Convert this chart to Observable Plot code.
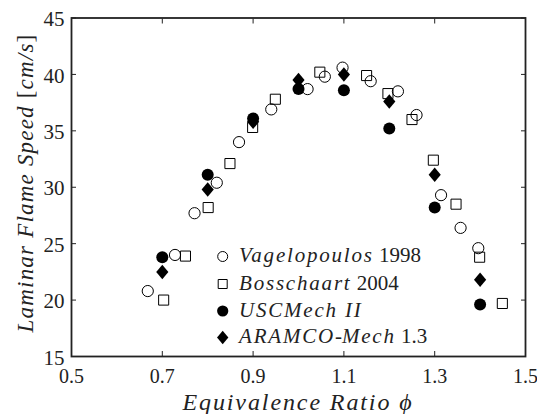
<!DOCTYPE html>
<html><head><meta charset="utf-8">
<script src="https://cdn.jsdelivr.net/npm/d3@7"></script>
<script src="https://cdn.jsdelivr.net/npm/@observablehq/plot@0.6"></script>
<style>body{margin:0;background:#fff}#chart{width:537px;height:414px}</style>
</head><body><div id="chart"></div>
<script>
// ---- data ----
const vagX = [0.668,0.728,0.771,0.820,0.869,0.940,1.020,1.058,1.097,1.159,1.219,1.260,1.314,1.357,1.396];
const vagY = [20.8,24.0,27.7,30.4,34.0,36.9,38.7,39.8,40.6,39.4,38.5,36.4,29.3,26.4,24.6];
const bosX = [0.703,0.751,0.801,0.849,0.899,0.949,1.047,1.150,1.197,1.250,1.297,1.347,1.399,1.449];
const bosY = [20.0,23.9,28.2,32.1,35.3,37.8,40.2,39.9,38.3,36.0,32.4,28.5,23.8,19.7];
const simX = [0.7,0.8,0.9,1.0,1.1,1.2,1.3,1.4];
const uscY = [23.8,31.1,36.1,38.7,38.6,35.2,28.2,19.6];
const araY = [22.5,29.8,35.8,39.5,40.0,37.6,31.1,21.8];
const xTicks = [0.5,0.7,0.9,1.1,1.3,1.5];
const yTicks = [15,20,25,30,35,40,45];
const seriesNames = [
  [["Vagelopoulos","i"],[" 1998","n"]],
  [["Bosschaart","i"],[" 2004","n"]],
  [["USCMech II","i"]],
  [["ARAMCO","i"],["-","n"],["Mech","i"],[" 1.3","n"]]
];

const ink = "#222";
const font = "'Liberation Serif', 'Times New Roman', serif";

// custom symbols
const symSquare = {draw(ctx, size){ const r = Math.sqrt(size/Math.PI); const s = r*0.9; ctx.moveTo(-s,-s); ctx.lineTo(s,-s); ctx.lineTo(s,s); ctx.lineTo(-s,s); ctx.closePath(); }};
const symDiamond = {draw(ctx, size){ const r = Math.sqrt(size/Math.PI); const w = r*1.05, h = r*1.25; ctx.moveTo(0,-h); ctx.lineTo(w,0); ctx.lineTo(0,h); ctx.lineTo(-w,0); ctx.closePath(); }};

const toRows = (xs, ys) => xs.map((x,i)=>({x, y: ys[i]}));
const vag = toRows(vagX, vagY), bos = toRows(bosX, bosY), usc = toRows(simX, uscY), ara = toRows(simX, araY);

const plot = Plot.plot({
  width: 537, height: 414,
  marginLeft: 71, marginRight: 12, marginTop: 17.5, marginBottom: 58,
  x: {domain: [0.5, 1.5]},
  y: {domain: [15, 45]},
  style: {fontFamily: font, fontSize: "21px", color: ink, background: "#fff", overflow: "visible"},
  marks: [
    Plot.axisX(xTicks, {anchor: "bottom", tickSize: 0, tickPadding: 12, fontSize: 20, tickFormat: d => d.toFixed(1), label: null, fill: ink}),
    Plot.axisX(xTicks, {anchor: "bottom", tickSize: 5, dy: -5, tickFormat: () => "", label: null, stroke: ink}),
    Plot.axisX(xTicks, {anchor: "top", tickSize: 5, dy: 5, tickFormat: () => "", label: null, stroke: ink}),
    Plot.axisY(yTicks, {anchor: "left", tickSize: 0, tickPadding: 7, dy: 1.5, label: null, fill: ink}),
    Plot.axisY(yTicks, {anchor: "left", tickSize: 5, dx: 5, tickFormat: () => "", label: null, stroke: ink}),
    Plot.axisY(yTicks, {anchor: "right", tickSize: 5, dx: -5, tickFormat: () => "", label: null, stroke: ink}),
    Plot.frame({stroke: ink, strokeWidth: 1.8}),
    Plot.dot(vag, {x: "x", y: "y", r: 5.6, symbol: "circle", stroke: "#000", strokeWidth: 1, fill: "none"}),
    Plot.dot(bos, {x: "x", y: "y", r: 5.6, symbol: symSquare, stroke: "#000", strokeWidth: 1, fill: "none"}),
    Plot.dot(usc, {x: "x", y: "y", r: 6, symbol: "circle", fill: "#000", stroke: "none"}),
    Plot.dot(ara, {x: "x", y: "y", r: 5.8, symbol: symDiamond, fill: "#000", stroke: "none"})
  ]
});
document.getElementById("chart").appendChild(plot);

const svg = d3.select(plot);
const g = svg.append("g").attr("font-family", font).attr("fill", ink).attr("text-anchor", "start");
// axis labels
g.append("text").attr("x", 298).attr("y", 410).attr("text-anchor", "middle")
  .attr("font-style", "italic").attr("font-size", 24).attr("letter-spacing", 1.9).text("Equivalence Ratio \u03D5");
const yl = g.append("text").attr("transform", "translate(33,183) rotate(-90)").attr("text-anchor", "middle")
  .attr("font-size", 23).attr("letter-spacing", 1.2);
yl.append("tspan").attr("font-style", "italic").text("Laminar Flame Speed ");
yl.append("tspan").text("[");
yl.append("tspan").attr("font-style", "italic").text("cm/s");
yl.append("tspan").text("]");

// legend
const legSyms = [
  {sym: d3.symbolCircle, r: 5, fill: "none", stroke: "#000"},
  {sym: symSquare, r: 5, fill: "none", stroke: "#000"},
  {sym: d3.symbolCircle, r: 5.6, fill: "#000", stroke: "none"},
  {sym: symDiamond, r: 5.4, fill: "#000", stroke: "none"}
];
const rowY = [256.5, 284, 311, 337.5];
seriesNames.forEach((parts, i) => {
  const s = legSyms[i];
  g.append("path").attr("transform", `translate(222.7,${rowY[i]})`)
    .attr("d", d3.symbol(s.sym, s.r * s.r * Math.PI)())
    .attr("fill", s.fill).attr("stroke", s.stroke).attr("stroke-width", 1);
  const t = g.append("text").attr("x", 239).attr("y", rowY[i] + 5.5).attr("font-size", 21);
  parts.forEach(([txt, st]) => {
    const sp = t.append("tspan").text(txt);
    if (st === "i") sp.attr("font-style", "italic").attr("letter-spacing", 1.8);
  });
});
</script></body></html>
